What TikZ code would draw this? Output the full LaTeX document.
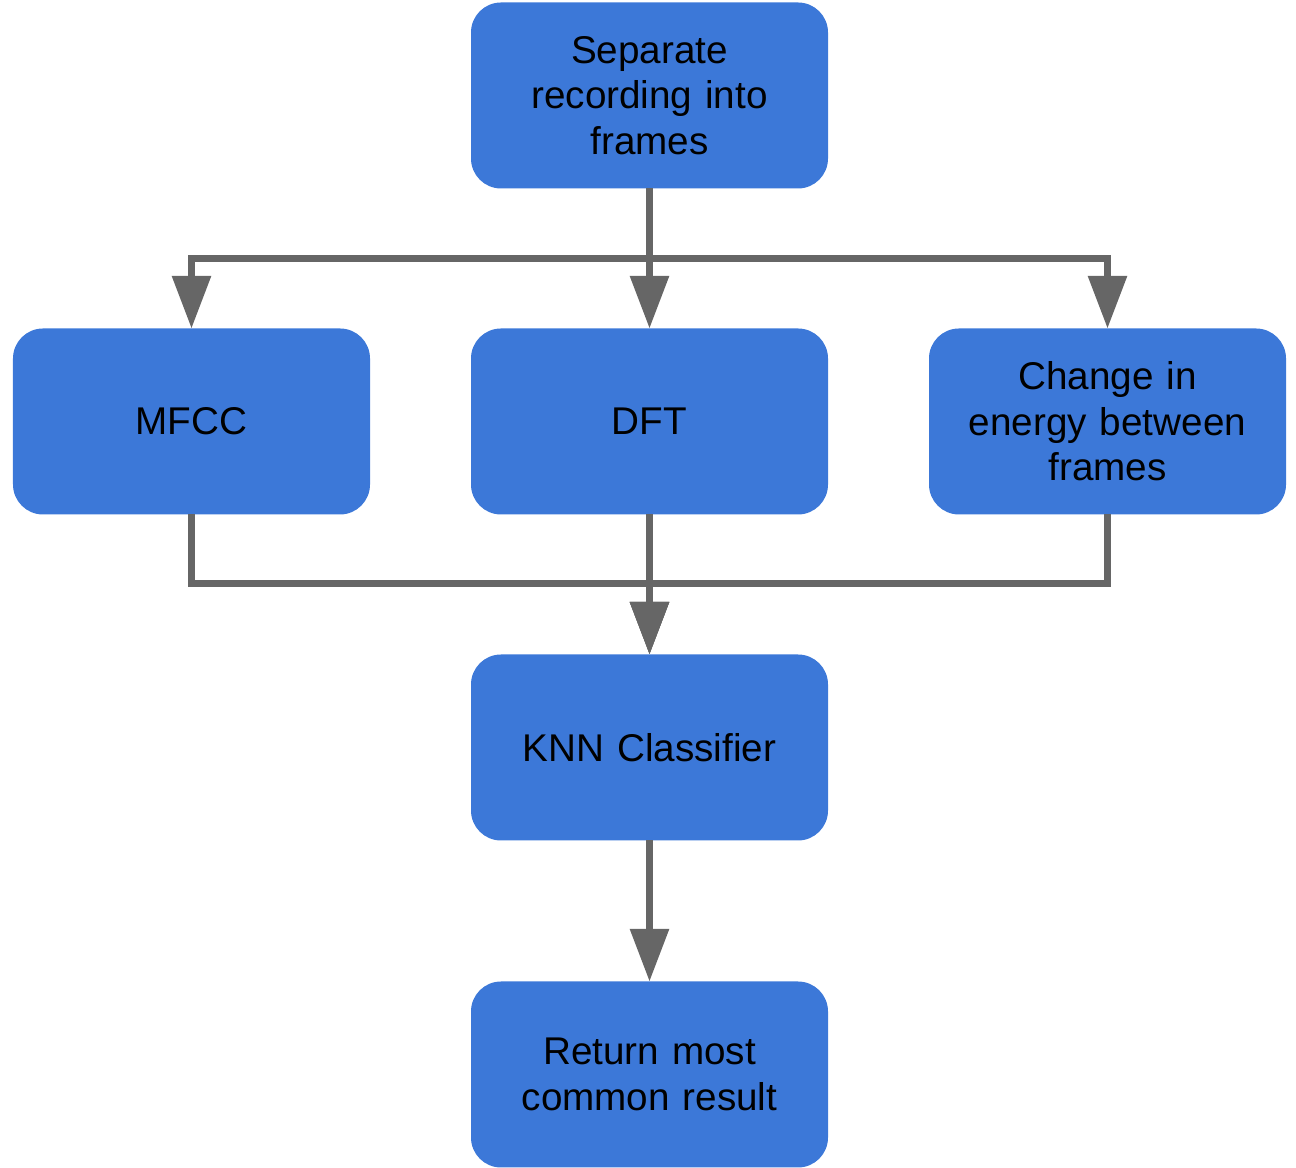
\documentclass[tikz,border=0pt]{standalone}
\usepackage{fontspec}
\setmainfont{Liberation Sans}
\usepackage{xcolor}
\usetikzlibrary{positioning,arrows.meta}
\definecolor{boxblue}{HTML}{3C78D8}
\definecolor{linegray}{HTML}{666666}

\begin{document}
\begin{tikzpicture}[
	stepbox/.style={fill=boxblue, rounded corners=0.6cm, minimum width=7.14cm, minimum height=3.72cm,
		text width=6.6cm, align=center, outer sep=0pt,
		font=\fontsize{22pt}{26pt}\selectfont},
	flow/.style={draw=linegray, line width=4pt, -{Triangle[width=21.5pt,length=30pt]}}
]
	\useasboundingbox (0,0) rectangle (25.92,23.36);
	\node[stepbox] (frames) at (12.99,21.45) {Separate\\recording into\\frames};
	\node[stepbox, below=2.8cm of frames] (dft) {DFT};
	\node[stepbox, left=2.02cm of dft] (mfcc) {MFCC};
	\node[stepbox, right=2.02cm of dft] (energy) {Change in\\energy between\\frames};
	\node[stepbox, below=2.8cm of dft] (knn) {KNN Classifier};
	\node[stepbox, below=2.82cm of knn] (result) {Return most\\common result};
	%\coordinate (split) at (12.99,18.26);
	\coordinate[below=1.38cm of dft.south] (join);

	\draw[flow] (frames.south) -- (dft.north);
	\draw[flow] (frames.south) -- ++(0,-1.4) -| (mfcc.north);
	\draw[flow] (frames.south) -- ++(0,-1.4) -| (energy.north);

	\draw[flow] (dft.south) -- (knn.north);
	\draw[flow] (mfcc.south) |- (join) -- (knn.north);
	\draw[flow] (energy.south) |- (join) -- (knn.north);
	\draw[flow] (knn.south) -- (result.north);
\end{tikzpicture}
\end{document}
